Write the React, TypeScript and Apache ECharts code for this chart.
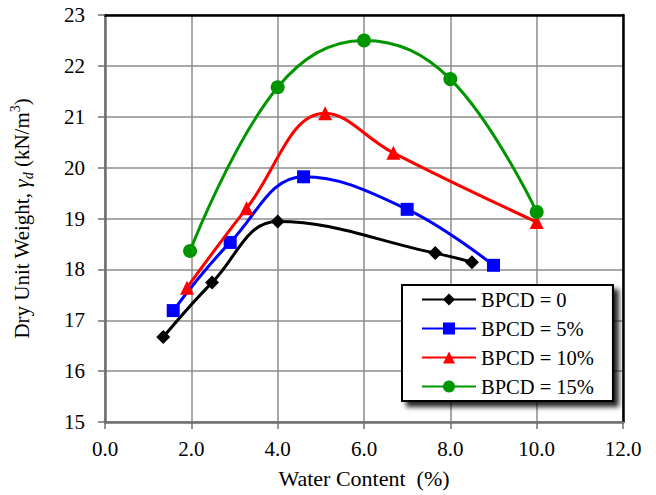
import React, { useEffect, useRef } from "react";
import * as echarts from "echarts";

const seriesNames = ["BPCD = 0", "BPCD = 5%", "BPCD = 10%", "BPCD = 15%"];
const seriesColors = ["#000000", "#0000ff", "#ff0000", "#009600"];
const seriesSymbols = ["diamond", "rect", "triangle", "circle"];
const seriesSymbolSizes = [14, 13, 14, 14];

const bpcd0X = [1.35, 2.48, 4.0, 7.65, 8.5];
const bpcd0Y = [16.67, 17.74, 18.94, 18.32, 18.14];
const bpcd5X = [1.58, 2.9, 4.6, 7.0, 9.0];
const bpcd5Y = [17.19, 18.53, 19.82, 19.18, 18.08];
const bpcd10X = [1.9, 3.28, 5.1, 6.68, 10.0];
const bpcd10Y = [17.64, 19.2, 21.07, 20.29, 18.93];
const bpcd15X = [1.97, 4.0, 6.0, 8.0, 10.0];
const bpcd15Y = [18.36, 21.58, 22.5, 21.74, 19.13];

const xTicks = [0, 2, 4, 6, 8, 10, 12];
const yTicks = [15, 16, 17, 18, 19, 20, 21, 22, 23];

const FONT = "'Liberation Serif', 'Times New Roman', serif";

function pairs(xs: number[], ys: number[]) {
  return xs.map((x, i) => [x, ys[i]]);
}

export default function App() {
  const ref = useRef<HTMLDivElement>(null);
  useEffect(() => {
    document.body.style.margin = "0";
    if (!ref.current) return;
    const chart = echarts.init(ref.current, undefined, { renderer: "svg" });
    const allData = [
      pairs(bpcd0X, bpcd0Y),
      pairs(bpcd5X, bpcd5Y),
      pairs(bpcd10X, bpcd10Y),
      pairs(bpcd15X, bpcd15Y),
    ];
    const gridColor = "#8c8c8c";
    const axisGray = "#6f6f6f";
    chart.setOption({
      animation: false,
      backgroundColor: "#ffffff",
      textStyle: { fontFamily: FONT },
      grid: { left: 105, top: 15, right: 33, bottom: 73, containLabel: false },
      legend: {
        data: seriesNames,
        orient: "vertical",
        left: 402,
        top: 285,
        padding: [4, 19, 4, 19],
        itemWidth: 54,
        itemHeight: 15,
        itemGap: 8,
        backgroundColor: "#ffffff",
        borderColor: "#000000",
        borderWidth: 2,
        borderRadius: 0,
        shadowColor: "rgba(0,0,0,0.85)",
        shadowBlur: 5,
        shadowOffsetX: 5,
        shadowOffsetY: 5,
        textStyle: { fontFamily: FONT, fontSize: 20.5, color: "#000", lineHeight: 20 },
      },
      xAxis: [
        {
          type: "value",
          min: xTicks[0],
          max: xTicks[xTicks.length - 1],
          interval: 2,
          name: "Water Content  (%)",
          nameLocation: "middle",
          nameGap: 45,
          nameTextStyle: { fontFamily: FONT, fontSize: 22, color: "#000" },
          axisLine: { show: true, onZero: false, lineStyle: { color: axisGray, width: 2.5 } },
          axisTick: { show: true, length: 7, lineStyle: { color: axisGray, width: 1.5 } },
          axisLabel: {
            margin: 16,
            fontFamily: FONT,
            fontSize: 21,
            color: "#000",
            formatter: (v: number) => v.toFixed(1),
          },
          splitLine: { show: true, lineStyle: { color: gridColor, width: 1.5 } },
        },
        {
          type: "value",
          position: "top",
          min: xTicks[0],
          max: xTicks[xTicks.length - 1],
          interval: 2,
          axisLine: { show: true, onZero: false, lineStyle: { color: "#000", width: 2.5 } },
          axisTick: { show: false },
          axisLabel: { show: false },
          splitLine: { show: false },
        },
      ],
      yAxis: [
        {
          type: "value",
          min: yTicks[0],
          max: yTicks[yTicks.length - 1],
          interval: 1,
          name: "Dry Unit Weight, {g|γ}{sub|d} (kN/m{sup|3})",
          nameLocation: "middle",
          nameGap: 70,
          nameTextStyle: {
            fontFamily: FONT,
            fontSize: 21,
            color: "#000",
            lineHeight: 27,
            rich: {
              g: { fontFamily: FONT, fontSize: 21, fontStyle: "italic", lineHeight: 27 },
              sub: { fontFamily: FONT, fontSize: 14, fontStyle: "italic", verticalAlign: "bottom", lineHeight: 14 },
              sup: { fontFamily: FONT, fontSize: 14, verticalAlign: "top", lineHeight: 14 },
            },
          },
          axisLine: { show: true, onZero: false, lineStyle: { color: axisGray, width: 2.5 } },
          axisTick: { show: true, length: 7, lineStyle: { color: axisGray, width: 1.5 } },
          axisLabel: { margin: 20, fontFamily: FONT, fontSize: 21, color: "#000" },
          splitLine: { show: true, lineStyle: { color: gridColor, width: 1.5 } },
        },
        {
          type: "value",
          position: "right",
          min: yTicks[0],
          max: yTicks[yTicks.length - 1],
          interval: 1,
          axisLine: { show: true, onZero: false, lineStyle: { color: "#000", width: 2.5 } },
          axisTick: { show: false },
          axisLabel: { show: false },
          splitLine: { show: false },
        },
      ],
      series: seriesNames.map((name, i) => ({
        name,
        type: "line",
        data: allData[i],
        smooth: 0.4,
        symbol: seriesSymbols[i],
        symbolSize: seriesSymbolSizes[i],
        showAllSymbol: true,
        color: seriesColors[i],
        lineStyle: { color: seriesColors[i], width: 3 },
        itemStyle: { color: seriesColors[i], borderWidth: 0 },
        z: 3 + i,
      })),
    });
    return () => chart.dispose();
  }, []);
  return <div ref={ref} style={{ width: 656, height: 495 }} />;
}
